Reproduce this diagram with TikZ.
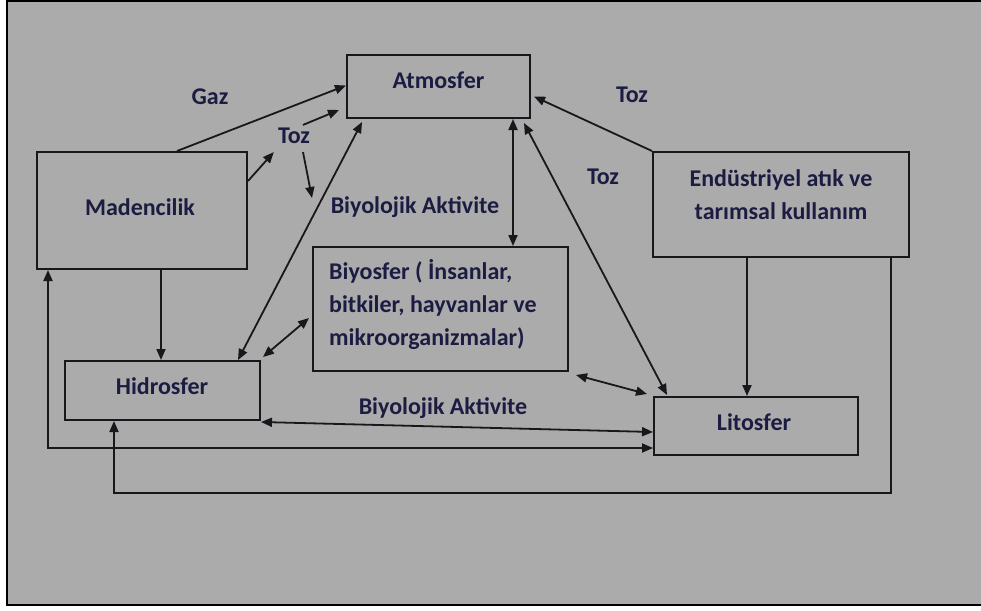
\documentclass[tikz,border=0pt]{standalone}
\usepackage{fontspec}
\setmainfont{Carlito}
\usepackage{xcolor}
\definecolor{bggray}{RGB}{171,171,171}
\definecolor{inkline}{RGB}{24,24,28}
\definecolor{inktext}{RGB}{28,28,66}
\usetikzlibrary{arrows.meta, positioning, calc}

\begin{document}
\begin{tikzpicture}[x=1pt, y=-1pt,
    sphere/.style={draw=inkline, line width=2pt, inner sep=0pt},
    lbl/.style={font=\fontsize{24}{33}\selectfont\bfseries, text=inktext, inner sep=0pt},
    flow/.style={draw=inkline, line width=1.8pt, -{Triangle[length=11pt,width=9pt]}},
    both/.style={flow, {Triangle[length=11pt,width=9pt]}-{Triangle[length=11pt,width=9pt]}}]

\useasboundingbox (0,0) rectangle (981,610);
\fill[white] (0,0) rectangle (981,610);
\fill[bggray] (7,1.5) rectangle (982,605);
\draw[black, line width=2.5pt] (983,1.2) -- (7,1.2) -- (7,605) -- (983,605);

% === Spheres ===
\node[sphere, minimum width=183pt, minimum height=63pt] (atm) at (438.5,86.5) {};
\node[lbl] (atmtxt) at (438.5,80) {Atmosfer};

\node[sphere, minimum width=210pt, minimum height=117pt] (mad) at (142,210.5) {};
\node[lbl] (madtxt) at (140,207) {Madencilik};

\node[sphere, minimum width=255pt, minimum height=124pt] (bio) at (440.5,309) {};
\node[lbl, anchor=west, align=left] (biotxt) at (329,304)
     {Biyosfer ( İnsanlar,\\bitkiler, hayvanlar ve\\mikroorganizmalar)};

\node[sphere, minimum width=195pt, minimum height=59pt] (hid) at (162.5,390.5) {};
\node[lbl] (hidtxt) at (162,386) {Hidrosfer};

\node[sphere, minimum width=256pt, minimum height=105pt] (ind) at (781,204.5) {};
\node[lbl, align=center] (indtxt) at (781,194.5) {Endüstriyel atık ve\\tarımsal kullanım};

\node[sphere, minimum width=204pt, minimum height=58pt] (lit) at (756,426) {};
\node[lbl] (littxt) at (754,422) {Litosfer};

% === Flow labels ===
\node[lbl] (gaz) at (210,97) {Gaz};
\node[lbl] (tozA) at (294,136) {Toz};
\node[lbl] (tozB) at (632,95) {Toz};
\node[lbl] (tozC) at (603,177) {Toz};
\node[lbl] (bioA) at (415,207) {Biyolojik Aktivite};
\node[lbl] (bioB) at (443,408) {Biyolojik Aktivite};

% === Connectors ===
\coordinate (tozfall) at (312,198);
\coordinate (atmB) at ([xshift=-18pt]atm.south east);
\coordinate (indA) at ([xshift=-34pt]ind.south);
\coordinate (indB) at ([xshift=-19pt]ind.south east);
\coordinate (madA) at ([xshift=125pt]mad.south west);

\draw[flow] ([xshift=141pt]mad.north west) -- ([yshift=1pt]atm.west);
\draw[flow] ([yshift=-30pt]mad.north east) -- ([shift={(-4,8)}]tozA.south west);
\draw[flow] ([shift={(9,-3)}]tozA.north) -- ([shift={(-7,-9)}]atm.south west);
\draw[flow] ([shift={(9,8)}]tozA.south) -- (tozfall);

\draw[both] ([shift={(-23,0)}]hid.north east) -- ([shift={(16,3)}]atm.south west);
\draw[both] ([shift={(2,-3)}]hid.north east) -- ([shift={(-3,9)}]bio.west);
\draw[both] (atmB) -- (atmB |- bio.north);
\draw[both] ([shift={(-7,4)}]atm.south east) -- ([shift={(14,-1)}]lit.north west);
\draw[both] ([shift={(7,3)}]bio.south east) -- ([shift={(-6,-2)}]lit.north west);

\draw[flow] (ind.north west) -- ([shift={(3,10)}]atm.east);
\draw[flow] (indA) -- (indA |- lit.north);
\draw[flow] (indB) |- ([shift={(50,72)}]hid.south west) -- ([xshift=50pt]hid.south west);

\draw[flow] (madA) -- (madA |- hid.north);
\draw[both] ([yshift=8pt]lit.south west) -| ([xshift=12pt]mad.south west);
\draw[both] ([shift={(0,1)}]hid.south east) -- ([shift={(0,6)}]lit.west);

\end{tikzpicture}
\end{document}
